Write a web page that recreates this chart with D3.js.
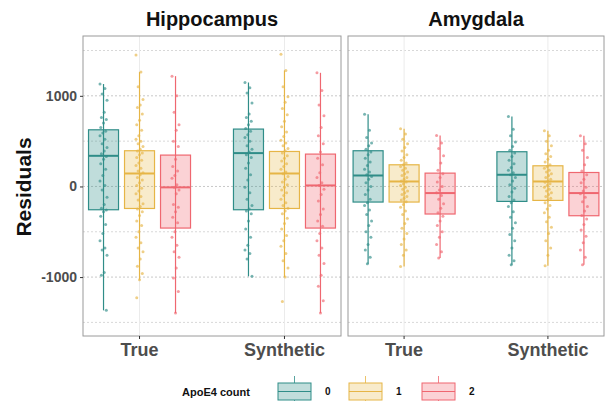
<!DOCTYPE html>
<html>
<head>
    <meta charset="utf-8">
    <style>
        body { margin: 0; background: #fff; }
        text { font-family: "Liberation Sans", Arial, sans-serif; }
    </style>
</head>
<body>
    <svg width="606" height="401"></svg>
    <script src="https://d3js.org/d3.v7.min.js"></script>
    <script>
        let regions = ["Hippocampus", "Amygdala"];
        let types = ["True", "Synthetic"];
        let counts = ["0", "1", "2"];
        let yTicks = [-1000, 0, 1000];
        let yGrid = [-1500, -1000, -500, 0, 500, 1000, 1500];

        // [lower whisker, q1, median, q3, upper whisker]
        let hippoTrueStats = [[-1367, -257, 338, 625, 1130], [-1029, -243, 143, 394, 1262], [-1396, -459, -10, 346, 1217]];
        let hippoSynthStats = [[-992, -257, 368, 633, 1147], [-1000, -243, 143, 386, 1280], [-1396, -459, 11, 357, 1254]];
        let amygTrueStats = [[-852, -172, 121, 394, 798], [-882, -172, 55, 239, 636], [-790, -304, -73, 147, 562]];
        let amygSynthStats = [[-863, -165, 129, 383, 772], [-874, -154, 55, 228, 614], [-863, -323, -73, 154, 559]];

        let hippoTruePts = [
            [1130, 1080, 1020, 950, 820, 760, 740, 700, 650, 610, 590, 560, 520, 470, 430, 390, 360, 330, 300, 250, 190, 120, 60, 10, -40, -120, -200, -240, -260, -280, -330, -420, -520, -600, -680, -700, -760, -950, -980, -1367],
            [1451, 1262, 1100, 960, 900, 870, 800, 730, 680, 620, 560, 520, 500, 470, 440, 410, 390, 370, 350, 320, 290, 260, 230, 200, 170, 150, 130, 100, 70, 40, 10, -20, -50, -80, -110, -150, -190, -220, -250, -280, -320, -380, -430, -500, -560, -620, -680, -720, -800, -880, -960, -1029, -1227],
            [1217, 1000, 820, 680, 620, 500, 440, 300, 220, 170, 120, 90, 20, -10, -40, -80, -200, -230, -280, -340, -400, -500, -560, -650, -720, -780, -900, -1010, -1160, -1396]
        ];
        let hippoSynthPts = [
            [1147, 1090, 1030, 920, 800, 760, 720, 680, 640, 610, 570, 540, 500, 450, 410, 380, 350, 320, 260, 200, 130, 70, -10, -70, -140, -210, -250, -270, -300, -380, -470, -560, -650, -700, -740, -800, -990],
            [1460, 1280, 1100, 990, 930, 860, 790, 720, 660, 600, 550, 510, 480, 450, 420, 395, 370, 340, 310, 280, 250, 220, 190, 160, 140, 110, 80, 50, 20, -10, -40, -70, -100, -140, -180, -210, -240, -270, -300, -350, -410, -470, -540, -600, -660, -740, -820, -900, -1000, -1270],
            [1254, 1060, 900, 780, 650, 560, 470, 380, 310, 240, 150, 100, 40, 10, -30, -90, -160, -250, -310, -380, -440, -520, -600, -680, -760, -850, -980, -1100, -1260, -1396]
        ];
        let amygTruePts = [
            [798, 620, 540, 480, 450, 410, 380, 350, 310, 270, 230, 190, 160, 130, 110, 80, 40, 0, -40, -90, -140, -180, -210, -260, -310, -380, -430, -500, -560, -640, -700, -780, -852],
            [636, 580, 520, 470, 430, 390, 350, 320, 290, 260, 240, 220, 200, 180, 160, 140, 120, 100, 80, 60, 50, 30, 10, -10, -30, -50, -70, -90, -110, -130, -150, -170, -200, -230, -270, -310, -360, -410, -460, -520, -580, -640, -700, -760, -882],
            [562, 480, 420, 340, 260, 180, 140, 100, 50, 0, -40, -70, -100, -140, -190, -240, -290, -330, -380, -430, -500, -560, -640, -720, -790]
        ];
        let amygSynthPts = [
            [772, 630, 560, 490, 440, 400, 370, 330, 290, 250, 210, 180, 150, 130, 100, 60, 20, -20, -60, -110, -150, -180, -220, -280, -340, -400, -460, -530, -600, -680, -760, -820, -863],
            [614, 560, 500, 450, 400, 360, 330, 300, 270, 240, 220, 200, 180, 160, 140, 120, 100, 80, 60, 45, 30, 10, -10, -30, -50, -70, -90, -110, -130, -150, -180, -210, -250, -290, -340, -390, -450, -520, -600, -680, -760, -874],
            [559, 470, 400, 320, 240, 170, 130, 80, 40, -10, -50, -80, -120, -170, -220, -270, -320, -360, -420, -480, -550, -620, -700, -780, -863]
        ];

        let stats = {Hippocampus: [hippoTrueStats, hippoSynthStats], Amygdala: [amygTrueStats, amygSynthStats]};
        let points = {Hippocampus: [hippoTruePts, hippoSynthPts], Amygdala: [amygTruePts, amygSynthPts]};

        let strokeColors = ["#2f8d88", "#e6b546", "#ef6770"];
        let fillColors = ["#2f8d88", "#e9bc52", "#f26a74"];
        let colour = d3.scaleOrdinal().domain(counts).range(strokeColors);
        let fill = d3.scaleOrdinal().domain(counts).range(fillColors);

        let svg = d3.select("svg");
        let plotTop = 36, plotBottom = 336;
        let panels = [[83, 341], [348, 604]];

        let y = d3.scaleLinear().domain([-1650, 1660]).range([plotBottom, plotTop]);

        regions.forEach((region, ri) => {
            let [x0, x1] = panels[ri];
            let x = d3.scalePoint().domain(types).range([x0, x1]).padding(0.39);
            let dodge = d3.scalePoint().domain(counts).range([-36, 36]);
            let boxW = 30;
            let g = svg.append("g");

            // grid
            g.selectAll(".hg").data(yGrid).enter().append("line")
                .attr("x1", x0).attr("x2", x1)
                .attr("y1", d => y(d)).attr("y2", d => y(d))
                .attr("stroke", d => d % 1000 === 0 ? "#c8c8c8" : "#d8d8d8")
                .attr("stroke-width", 1)
                .attr("stroke-dasharray", "2,2");
            g.selectAll(".vg").data(types).enter().append("line")
                .attr("x1", d => x(d)).attr("x2", d => x(d))
                .attr("y1", plotTop).attr("y2", plotBottom)
                .attr("stroke", "#ebebeb").attr("stroke-width", 1);

            types.forEach((t, ti) => {
                counts.forEach((c, ci) => {
                    let s = stats[region][ti][ci];
                    let cx = x(t) + dodge(c);
                    let bg = g.append("g");
                    bg.append("line")
                        .attr("x1", cx).attr("x2", cx)
                        .attr("y1", y(s[0])).attr("y2", y(s[4]))
                        .attr("stroke", colour(c)).attr("stroke-width", 1.2);
                    bg.append("rect")
                        .attr("x", cx - boxW / 2).attr("width", boxW)
                        .attr("y", y(s[3])).attr("height", y(s[1]) - y(s[3]))
                        .attr("fill", fill(c)).attr("fill-opacity", 0.3)
                        .attr("stroke", colour(c)).attr("stroke-width", 1.2);
                    bg.append("line")
                        .attr("x1", cx - boxW / 2).attr("x2", cx + boxW / 2)
                        .attr("y1", y(s[2])).attr("y2", y(s[2]))
                        .attr("stroke", colour(c)).attr("stroke-width", 2);
                    bg.selectAll("circle").data(points[region][ti][ci]).enter().append("circle")
                        .attr("cx", (d, i) => cx + ((i * 7) % 11 - 5) * 0.7)
                        .attr("cy", d => y(d))
                        .attr("r", 1.5)
                        .attr("fill", colour(c)).attr("fill-opacity", 0.65);
                });
            });

            // panel border
            g.append("rect")
                .attr("x", x0).attr("y", plotTop)
                .attr("width", x1 - x0).attr("height", plotBottom - plotTop)
                .attr("fill", "none").attr("stroke", "#9a9a9a").attr("stroke-width", 1);

            // x axis ticks and labels
            g.selectAll(".xt").data(types).enter().append("line")
                .attr("x1", d => x(d)).attr("x2", d => x(d))
                .attr("y1", plotBottom).attr("y2", plotBottom + 3)
                .attr("stroke", "#333").attr("stroke-width", 1);
            g.selectAll(".xl").data(types).enter().append("text")
                .attr("x", d => x(d)).attr("y", 356)
                .attr("text-anchor", "middle")
                .attr("font-size", 18).attr("font-weight", "bold")
                .attr("fill", "#4d4d4d")
                .text(d => d);

            // panel title
            g.append("text")
                .attr("x", (x0 + x1) / 2).attr("y", 26)
                .attr("text-anchor", "middle")
                .attr("font-size", 20).attr("font-weight", "bold")
                .attr("fill", "#111")
                .text(region);
        });

        // y axis on the left panel
        let yAxis = svg.append("g").attr("transform", `translate(${panels[0][0]},0)`)
            .call(d3.axisLeft(y).tickValues(yTicks).tickSize(3).tickPadding(3).tickFormat(d => String(d)));
        yAxis.select(".domain").remove();
        yAxis.selectAll("line").attr("stroke", "#333");
        yAxis.selectAll("text")
            .attr("font-size", 14).attr("font-weight", "bold")
            .attr("fill", "#4d4d4d")
            .style("font-family", "'Liberation Sans', Arial, sans-serif");

        svg.append("text")
            .attr("transform", "translate(31,187) rotate(-90)")
            .attr("text-anchor", "middle")
            .attr("font-size", 21).attr("font-weight", "bold")
            .attr("fill", "#111")
            .text("Residuals");

        // legend
        let legend = svg.append("g");
        legend.append("text")
            .attr("x", 182).attr("y", 396)
            .attr("font-size", 11).attr("font-weight", "bold")
            .attr("fill", "#111")
            .text("ApoE4 count");
        let keyX = d3.scaleOrdinal().domain(counts).range([278, 349, 422]);
        counts.forEach(c => {
            let kx = keyX(c), kw = 33, kc = kx + kw / 2;
            legend.append("line")
                .attr("x1", kc).attr("x2", kc).attr("y1", 376).attr("y2", 405)
                .attr("stroke", colour(c)).attr("stroke-width", 0.8);
            legend.append("rect")
                .attr("x", kx).attr("y", 383).attr("width", kw).attr("height", 17)
                .attr("fill", "#fff");
            legend.append("rect")
                .attr("x", kx).attr("y", 383).attr("width", kw).attr("height", 17)
                .attr("fill", fill(c)).attr("fill-opacity", 0.3)
                .attr("stroke", colour(c)).attr("stroke-width", 1);
            legend.append("line")
                .attr("x1", kx).attr("x2", kx + kw).attr("y1", 391.5).attr("y2", 391.5)
                .attr("stroke", colour(c)).attr("stroke-width", 1);
            legend.append("text")
                .attr("x", kx + kw + 14).attr("y", 395)
                .attr("font-size", 10).attr("font-weight", "bold")
                .attr("fill", "#111")
                .text(c);
        });
    </script>
</body>
</html>
